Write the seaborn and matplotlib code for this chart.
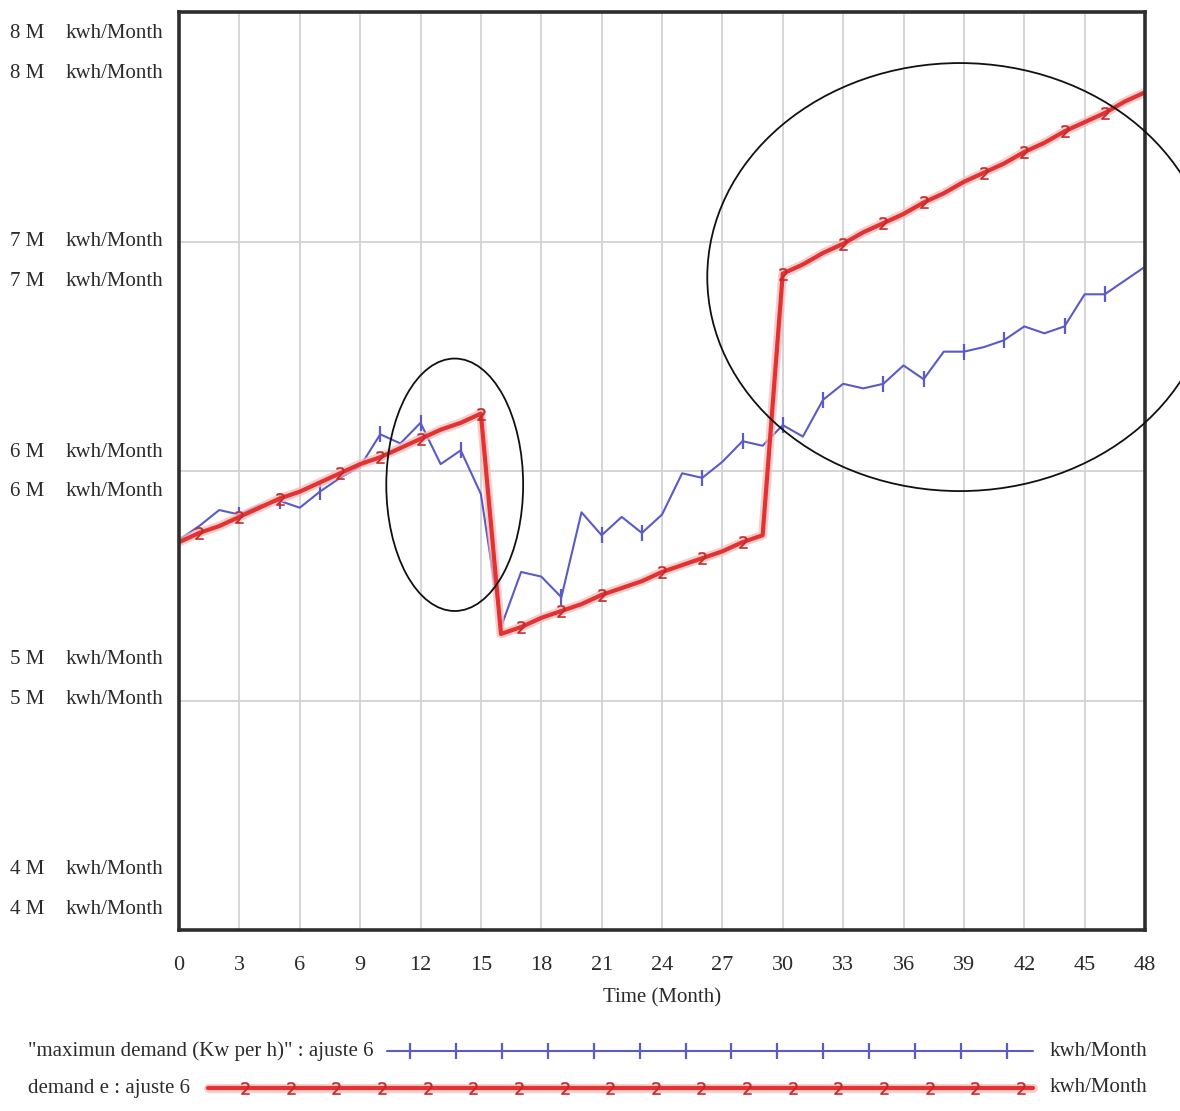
import numpy as np
import pandas as pd
import matplotlib
matplotlib.use("Agg")
import matplotlib.pyplot as plt
from matplotlib.patches import Ellipse
from matplotlib.lines import Line2D
import seaborn as sns

# ---- data (values in millions of kwh/Month), one point per month 0..48 ----
months = list(range(0, 49))

max_demand = [5.70, 5.76, 5.83, 5.81, 5.85, 5.87, 5.84, 5.91, 5.97, 6.02,
              6.16, 6.12, 6.21, 6.03, 6.09, 5.90, 5.32, 5.56, 5.54, 5.45,
              5.82, 5.72, 5.80, 5.73, 5.81, 5.99, 5.97, 6.04, 6.13, 6.11,
              6.20, 6.15, 6.31, 6.38, 6.36, 6.38, 6.46, 6.40, 6.52, 6.52,
              6.54, 6.57, 6.63, 6.60, 6.63, 6.77, 6.77, 6.83, 6.89]

demand_e = [5.69, 5.73, 5.76, 5.80, 5.84, 5.88, 5.91, 5.95, 5.99, 6.03,
            6.06, 6.10, 6.14, 6.18, 6.21, 6.25, 5.29, 5.32, 5.36, 5.39,
            5.42, 5.46, 5.49, 5.52, 5.56, 5.59, 5.62, 5.65, 5.69, 5.72,
            6.86, 6.90, 6.95, 6.99, 7.04, 7.08, 7.12, 7.17, 7.21, 7.26,
            7.30, 7.34, 7.39, 7.43, 7.48, 7.52, 7.56, 7.61, 7.65]

# months where the plotting symbols sit
blue_marks = [3, 5, 7, 10, 12, 14, 16, 19, 21, 23, 26, 28, 30, 32, 35, 37, 39, 41, 44, 46, 48]
red_marks = [1, 3, 5, 8, 10, 12, 15, 17, 19, 21, 24, 26, 28, 30, 33, 35, 37, 40, 42, 44, 46]

x_ticks = list(range(0, 49, 3))
y_ticks = [8, 7, 6, 5, 4]
y_unit = "kwh/Month"
x_label = "Time (Month)"
blue_label = "\"maximun demand (Kw per h)\" : ajuste 6"
red_label = "demand e : ajuste 6"

# hand-drawn highlight ellipses: (center month, center value, width, height)
circle_small = (13.7, 5.94, 6.8, 1.10)
circle_big = (38.8, 6.845, 25.1, 1.865)

BLUE = "#5a5ac8"
RED = "#e23232"
RED_MARK = "#c42a2a"
GLOW = "#f6b8b8"
TXT = "#2b2b2b"
FONT = "Liberation Serif"

df = pd.DataFrame({"month": months, "max_demand": max_demand, "demand_e": demand_e})

sns.set_theme(style="white")
plt.rcParams["font.family"] = [FONT, "DejaVu Serif"]

W, H = 1180, 1111
fig = plt.figure(figsize=(W / 100, H / 100), dpi=100)
ax = fig.add_axes([179 / W, 1 - 930 / H, (1145 - 179) / W, (930 - 12) / H])

sns.lineplot(data=df, x="month", y="max_demand", ax=ax, color=BLUE, linewidth=1.5,
             marker="|", markersize=11, markeredgewidth=1.6, markeredgecolor=BLUE,
             markevery=blue_marks, estimator=None, sort=False)
# soft halo under the red series, then the series with its symbols
sns.lineplot(data=df, x="month", y="demand_e", ax=ax, color=GLOW, linewidth=6.5,
             alpha=0.7, estimator=None, sort=False)
sns.lineplot(data=df, x="month", y="demand_e", ax=ax, color=RED, linewidth=3.0,
             marker="$2$", markersize=9, markeredgewidth=0.3, markeredgecolor=RED_MARK,
             markerfacecolor=RED_MARK, markevery=red_marks, estimator=None, sort=False)

for (cx, cy, w, h), clip in [(circle_small, True), (circle_big, False)]:
    ax.add_patch(Ellipse((cx, cy), w, h, fill=False, edgecolor="#111111",
                         linewidth=1.3, clip_on=clip, zorder=5))

ax.set_xlim(0, 48)
ax.set_ylim(4, 8)
ax.set_xticks(x_ticks)
ax.set_xticklabels([str(t) for t in x_ticks], fontsize=16, color=TXT, family=FONT)
ax.set_yticks(y_ticks)
ax.set_yticklabels([])
ax.tick_params(axis="x", length=0, pad=19)
ax.tick_params(axis="y", length=0)
ax.grid(True, color="#d2d2d2", linewidth=1.3)
ax.set_xlabel(x_label, fontsize=15, color=TXT, labelpad=9, family=FONT)
ax.set_ylabel("")
for s in ax.spines.values():
    s.set_visible(True)
    s.set_color("#2e2e2e")
    s.set_linewidth(2.6)

# stacked y labels, two lines per gridline like the original tool
label_rows = [(34, 73), (242, 282), (452, 492), (660, 700), (870, 910)]
for val, rows in zip(y_ticks, label_rows):
    for ypix in rows:
        fy = 1 - ypix / H
        fig.text(10 / W, fy, f"{val} M", fontsize=15, color=TXT, va="center", ha="left", family=FONT)
        fig.text(66 / W, fy, y_unit, fontsize=15, color=TXT, va="center", ha="left", family=FONT)

# legend rows drawn in figure coordinates
def legend_row(ypix, label, color, lw, x0, x1, marker, ms, mew, mcolor, mark_x, glow):
    fy = 1 - ypix / H
    fig.text(28 / W, fy, label, fontsize=15, color=TXT, va="center", ha="left", family=FONT)
    fig.text(1050 / W, fy, y_unit, fontsize=15, color=TXT, va="center", ha="left", family=FONT)
    if glow:
        fig.add_artist(Line2D([x0 / W, x1 / W], [fy, fy], color=GLOW, linewidth=lw + 3.5,
                              alpha=0.7, transform=fig.transFigure))
    fig.add_artist(Line2D([x0 / W, x1 / W], [fy, fy], color=color, linewidth=lw,
                          transform=fig.transFigure))
    fig.add_artist(Line2D([x / W for x in mark_x], [fy] * len(mark_x), color=mcolor,
                          linestyle="none", marker=marker, markersize=ms, markeredgewidth=mew,
                          markeredgecolor=mcolor, markerfacecolor=mcolor,
                          transform=fig.transFigure))

legend_row(1051, blue_label, BLUE, 1.5, 387, 1033, "|", 11, 1.6, BLUE,
           np.linspace(410, 1007, 14), False)
legend_row(1088, red_label, RED, 3.0, 208, 1033, "$2$", 9, 0.3, RED_MARK,
           np.linspace(245, 1021, 18), True)

fig.savefig("out.png", dpi=100, facecolor="white")
plt.close(fig)
